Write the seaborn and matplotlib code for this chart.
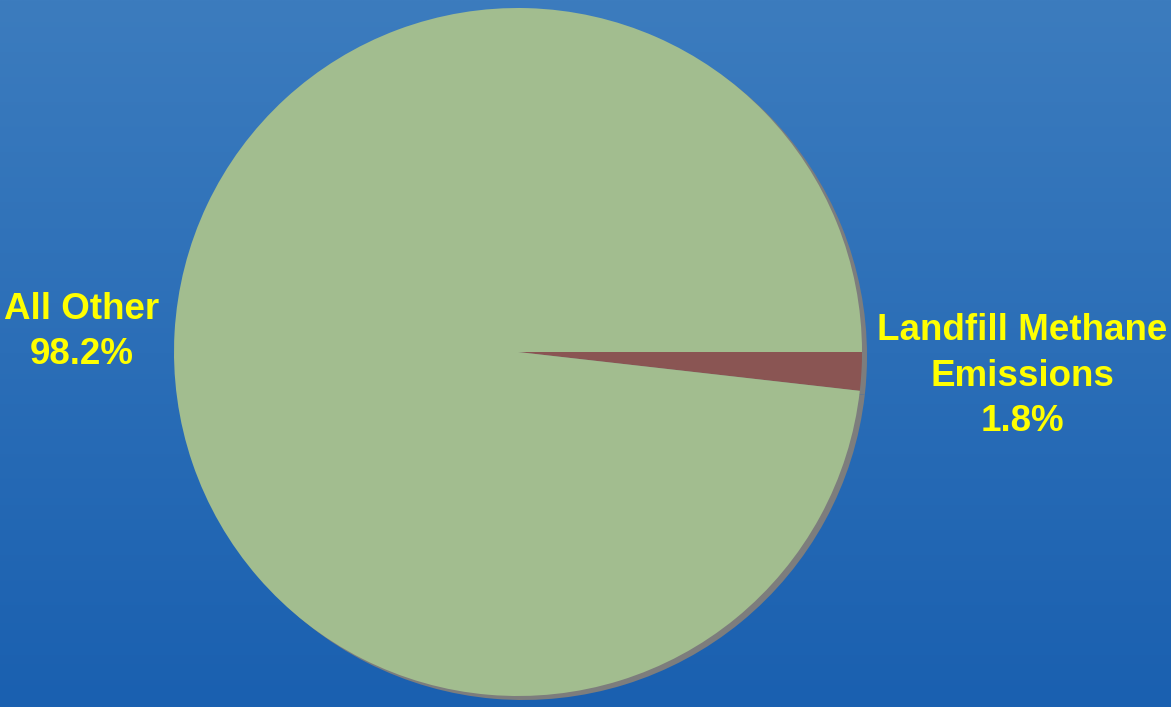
import numpy as np
import matplotlib
matplotlib.use("Agg")
import matplotlib.pyplot as plt
import seaborn as sns

# Data
categories = ["Landfill Methane\nEmissions", "All Other"]
shares = [1.8, 98.2]
label_texts = ["Landfill Methane\nEmissions\n1.8%", "All Other\n98.2%"]
slice_colors = ["#8a5553", "#a2bd8f"]

sns.set_theme(style="white")
plt.rcParams['font.family'] = ['Liberation Sans', 'DejaVu Sans']

W, H = 1171, 707
fig = plt.figure(figsize=(W / 100, H / 100), dpi=100)

# background gradient
bg = fig.add_axes([0, 0, 1, 1])
bg.set_axis_off()
top = np.array([60, 124, 190]) / 255
bot = np.array([26, 96, 176]) / 255
t = np.linspace(0, 1, 256)[:, None, None]
grad = top * (1 - t) + bot * t
grad = np.repeat(grad, 4, axis=1)
bg.imshow(grad, aspect="auto", extent=[0, 1, 0, 1])
bg.set_xlim(0, 1)
bg.set_ylim(0, 1)

ax = fig.add_axes([0, 0, 1, 1])
ax.set_axis_off()
ax.patch.set_alpha(0)

cx, cy, r = 518, H - 352, 344
# shadow
ax.pie(shares, colors=["#7d7d7d", "#7d7d7d"], startangle=0, counterclock=False,
       center=(cx + 5, cy - 4), radius=r, wedgeprops=dict(linewidth=0))
ax.pie(shares, colors=slice_colors, startangle=0, counterclock=False,
       center=(cx, cy), radius=r, wedgeprops=dict(linewidth=0))
ax.set_xlim(0, W)
ax.set_ylim(0, H)
ax.set_aspect("equal")

ax.text(1022, H - 376, label_texts[0], ha="center", va="center", color="#ffff00",
        fontsize=26.5, fontweight="bold", linespacing=1.38)
ax.text(82, H - 332, label_texts[1], ha="center", va="center", color="#ffff00",
        fontsize=26.5, fontweight="bold", linespacing=1.38)

fig.savefig("out.png", dpi=100)
